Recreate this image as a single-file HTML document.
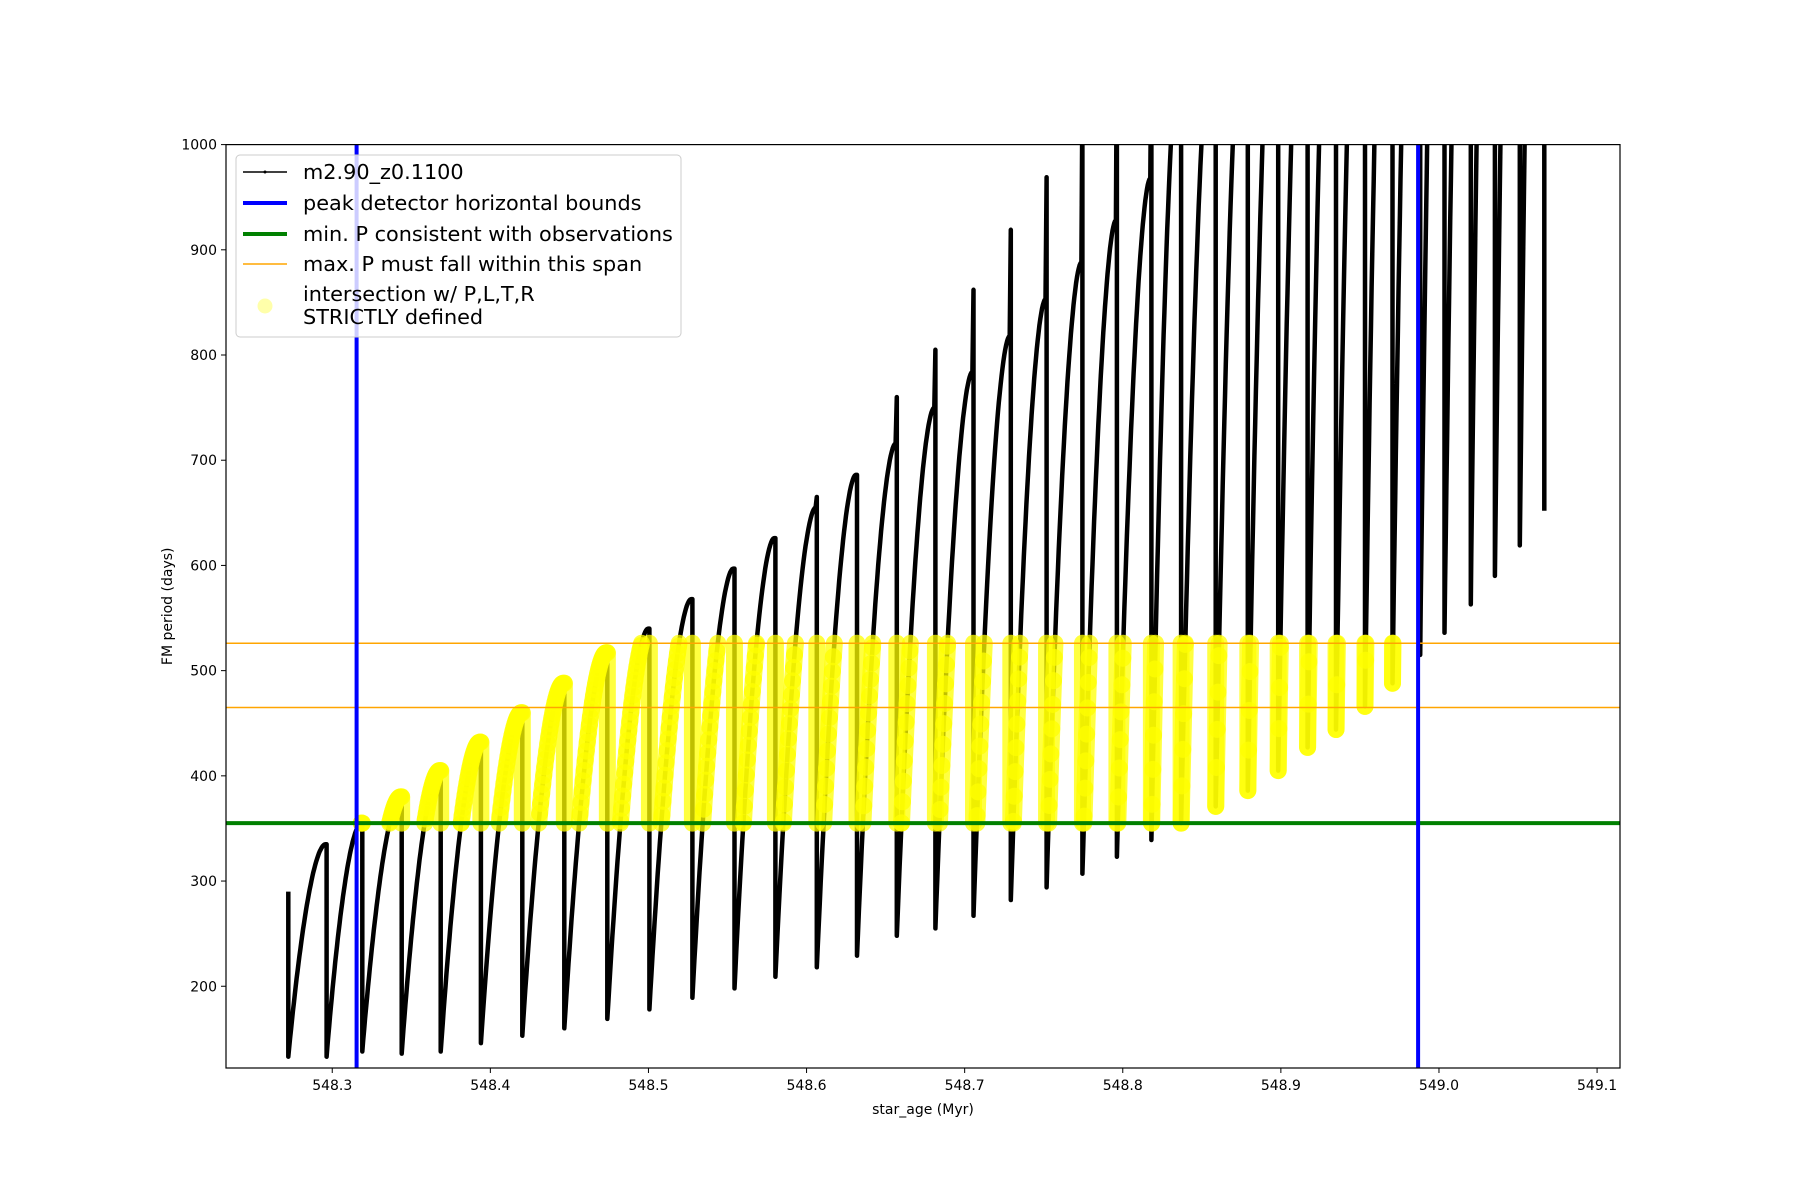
<!DOCTYPE html>
<html><head><meta charset="utf-8"><style>
html,body{margin:0;padding:0;background:#fff}
svg{display:block;font-family:"DejaVu Sans","Liberation Sans",sans-serif}
</style></head><body>
<svg id="chart" width="1800" height="1200" viewBox="0 0 1800 1200" xmlns="http://www.w3.org/2000/svg">
<defs><clipPath id="plotclip"><rect x="226" y="144.6" width="1394" height="923.4"/></clipPath></defs>
<rect width="1800" height="1200" fill="#fff"/>
<g id="marks" clip-path="url(#plotclip)"></g>
<g id="axes"></g>
<g id="legend"></g>
</svg>
<script>
// ---- data ----
const startAge = 548.2722;
const startTop = 290;
const startMin = 133;
const cycleEndAges = [548.2964,548.3190,548.3439,548.3686,548.3940,548.4202,548.4468,548.4740,548.5006,548.5278,548.5544,548.5803,548.6065,548.6319,548.6571,548.6815,548.7056,548.7292,548.7518,548.7745,548.7963,548.8181,548.8369,548.8588,548.8791,548.8983,548.9169,548.9349,548.9532,548.9706,548.9881,549.0035,549.0201,549.0354,549.0511,549.0666];
const cyclePeaks = [335,355,380,405,432,460,488,517,540,568,597,626,655,686,716,750,784,818,853,888,928,968,1100,1150,1200,1250,1300,1350,1400,1450,1500,1550,1600,1650,1700,1750];
const cycleSpikes = [335,355,380,405,432,460,488,517,540,568,597,626,665,686,760,805,862,919,969,1050,1100,1100,1100,1150,1200,1250,1300,1350,1400,1450,1500,1550,1600,1650,1700,1750];
const minsAfterDrop = [133,138,136,138,146,153,160,169,178,189,198,209,218,229,248,255,267,282,294,307,323,339,355,371,386,405,427,444,466,488,515,536,563,590,619,652];
const blueBounds = [548.3154,548.9868];
const greenMinP = 355;
const orangeSpan = [465,526];
const xTicks = [548.3,548.4,548.5,548.6,548.7,548.8,548.9,549.0,549.1];
const xTickLabels = ["548.3","548.4","548.5","548.6","548.7","548.8","548.9","549.0","549.1"];
const yTicks = [200,300,400,500,600,700,800,900,1000];
const yTickLabels = ["200","300","400","500","600","700","800","900","1000"];

// ---- axes functions ----
const L=226,R=1620,T=144.6,B=1068;
const X0=548.2328,X1=549.1145,Y0=122.3,Y1=1000;
const xs=v=>L+(v-X0)/(X1-X0)*(R-L);
const ys=v=>B-(v-Y0)/(Y1-Y0)*(B-T);
const NS="http://www.w3.org/2000/svg";
function mk(tag,attrs,parent){const e=document.createElementNS(NS,tag);for(const k in attrs)e.setAttribute(k,attrs[k]);parent.appendChild(e);return e;}
const marks=document.getElementById('marks'),axes=document.getElementById('axes'),legend=document.getElementById('legend');

// build series points
const pts=[[startAge,startTop],[startAge,startMin]];
let curAge=startAge,curMin=startMin;
for(let i=0;i<cycleEndAges.length;i++){
  const e=cycleEndAges[i],pk=cyclePeaks[i],n=40;
  for(let k=1;k<=n;k++){const t=k/n;const f=1-Math.pow(1-t,1.8);pts.push([curAge+(e-curAge)*t*0.97,curMin+(pk-curMin)*f]);}
  pts.push([e,cycleSpikes[i]]);
  pts.push([e,minsAfterDrop[i]]);
  curAge=e;curMin=minsAfterDrop[i];
}
const line=mk('polyline',{points:pts.map(p=>xs(p[0]).toFixed(1)+','+ys(p[1]).toFixed(1)).join(' '),fill:'none',stroke:'#000','stroke-width':4.5,'stroke-linejoin':'round'},marks);



// yellow intersection segments
const yg=mk('g',{},marks);


function clipSeg(a,b){
  let t0=0,t1=1;
  const dx=b[0]-a[0],dy=b[1]-a[1];
  const lim=[[dy,greenMinP-a[1],orangeSpan[1]-a[1]],[dx,blueBounds[0]-a[0],blueBounds[1]-a[0]]];
  for(const [d,lo,hi] of lim){
    if(Math.abs(d)<1e-12){if(0<lo||0>hi)return null;continue;}
    let ta=lo/d,tb=hi/d;if(ta>tb)[ta,tb]=[tb,ta];
    t0=Math.max(t0,ta);t1=Math.min(t1,tb);
  }
  if(t0>t1)return null;
  return [[a[0]+dx*t0,a[1]+dy*t0],[a[0]+dx*t1,a[1]+dy*t1]];
}
for(let i=1;i<pts.length;i++){
  const s=clipSeg(pts[i-1],pts[i]);if(!s)continue;
  const seg=mk('line',{x1:xs(s[0][0]),y1:ys(s[0][1]),x2:xs(s[1][0]),y2:ys(s[1][1]),stroke:'#ffff00','stroke-width':17,'stroke-linecap':'round','stroke-opacity':0.75},yg);
  
  
}

// reference lines
for(const v of orangeSpan){const o=mk('line',{x1:L,x2:R,y1:ys(v),y2:ys(v),stroke:'orange','stroke-width':1.5},marks);

}
const g=mk('line',{x1:L,x2:R,y1:ys(greenMinP),y2:ys(greenMinP),stroke:'green','stroke-width':4},marks);


for(const v of blueBounds){const b=mk('line',{x1:xs(v),x2:xs(v),y1:T,y2:B,stroke:'blue','stroke-width':4},marks);

}

// axes frame
const fr=mk('rect',{x:L,y:T,width:R-L,height:B-T,fill:'none',stroke:'#000','stroke-width':1.2},axes);


xTicks.forEach((v,i)=>{const x=xs(v);
  const t=mk('line',{x1:x,x2:x,y1:B,y2:B+5,stroke:'#000','stroke-width':1},axes);
  
  
  const l=mk('text',{x:x,y:B+22,'font-size':14,'text-anchor':'middle'},axes);l.textContent=xTickLabels[i];
  
  });
yTicks.forEach((v,i)=>{const y=ys(v);
  const t=mk('line',{x1:L-5,x2:L,y1:y,y2:y,stroke:'#000','stroke-width':1},axes);
  
  
  const l=mk('text',{x:L-9,y:y+5,'font-size':14,'text-anchor':'end'},axes);l.textContent=yTickLabels[i];
  
  });
const xl=mk('text',{x:(L+R)/2,y:1114,'font-size':14,'text-anchor':'middle'},axes);xl.textContent='star_age (Myr)';


const yl=mk('text',{x:172,y:(T+B)/2,'font-size':14,'text-anchor':'middle',transform:'rotate(-90 172 '+((T+B)/2)+')'},axes);yl.textContent='FM period (days)';



// legend
const lb=mk('rect',{x:236,y:155,width:445,height:182,rx:4,fill:'#fff','fill-opacity':0.8,stroke:'#ccc','stroke-width':1},legend);


const entries=[
 {y:172,label:'m2.90_z0.1100',kind:'line',color:'#000',w:1.5},
 {y:203,label:'peak detector horizontal bounds',kind:'line',color:'blue',w:4},
 {y:234,label:'min. P consistent with observations',kind:'line',color:'green',w:4},
 {y:264,label:'max. P must fall within this span',kind:'line',color:'orange',w:1.5},
 {y:306,label:'',kind:'dot',color:'#ffffaa'}
];
entries.forEach(e=>{
  const grp=mk('g',{},legend);
  
  
  if(e.kind==='line'){mk('line',{x1:243,x2:287,y1:e.y,y2:e.y,stroke:e.color,'stroke-width':e.w},grp);
    if(e.color==='#000')mk('circle',{cx:265,cy:e.y,r:1.5,fill:'#000'},grp);}
  else mk('circle',{cx:265,cy:e.y,r:7.5,fill:e.color},grp);
  if(e.label){const t=mk('text',{x:303,y:e.y+7,'font-size':20.8},grp);t.textContent=e.label;}
  else{const t1=mk('text',{x:303,y:301,'font-size':20.8},grp);t1.textContent='intersection w/ P,L,T,R';
       const t2=mk('text',{x:303,y:324,'font-size':20.8},grp);t2.textContent='STRICTLY defined';}
});
</script>
</body></html>
